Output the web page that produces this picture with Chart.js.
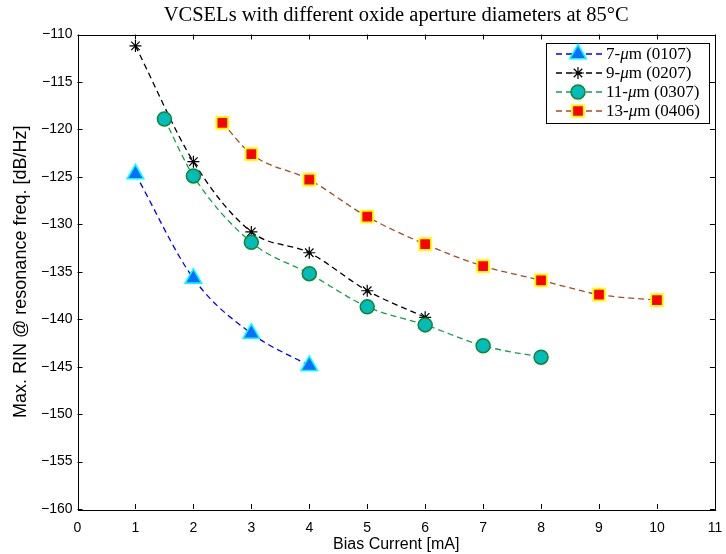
<!DOCTYPE html>
<html><head><meta charset="utf-8">
<script src="https://cdn.jsdelivr.net/npm/chart.js@4/dist/chart.umd.min.js"></script>
<style>html,body{margin:0;padding:0;background:#fff}#wrap{width:726px;height:554px}</style>
</head><body><div id="wrap"><canvas id="c" width="726" height="554"></canvas></div>
<script>
const xTickValues = [0,1,2,3,4,5,6,7,8,9,10,11];
const yTickValues = [-160,-155,-150,-145,-140,-135,-130,-125,-120,-115,-110];
const seriesLabels = ['7-μm (0107)','9-μm (0207)','11-μm (0307)','13-μm (0406)'];
const x7  = [1,2,3,4];
const y7  = [-124.7,-135.7,-141.5,-144.9];
const x9  = [1,2,3,4,5,6];
const y9  = [-111.2,-123.4,-130.8,-133.0,-137.0,-139.8];
const x11 = [1.5,2,3,4,5,6,7,8];
const y11 = [-118.9,-124.9,-131.9,-135.2,-138.7,-140.6,-142.8,-144.0];
const x13 = [2.5,3,4,5,6,7,8,9,10];
const y13 = [-119.3,-122.6,-125.3,-129.2,-132.1,-134.4,-135.9,-137.4,-138.0];
const titleText = 'VCSELs with different oxide aperture diameters at 85°C';
const xTitle = 'Bias Current [mA]';
const yTitle = 'Max. RIN @ resonance freq. [dB/Hz]';

const pts = (xs, ys) => xs.map((x, i) => ({x, y: ys[i]}));
const SANS = '"Liberation Sans", Arial, sans-serif';
const SERIF = '"Liberation Serif", "Times New Roman", serif';

function mkSet(label, data, line, fill, edge, style, radius, bw, order){
  return {label, data, borderColor: line, borderWidth: 1.3, borderDash: [6,4],
    cubicInterpolationMode: 'monotone', fill: false, showLine: true,
    pointStyle: style, pointRadius: radius, pointHoverRadius: radius,
    pointBackgroundColor: fill, pointBorderColor: edge, pointBorderWidth: bw,
    order};
}

const datasets = [
  mkSet(seriesLabels[0], pts(x7, y7), '#0000ff', '#0a6eff', '#00ffff', 'triangle', 9.5, 1.6, 4),
  mkSet(seriesLabels[1], pts(x9, y9), '#000000', '#000000', '#000000', 'star', 6, 1.2, 3),
  mkSet(seriesLabels[2], pts(x11, y11), '#12a14a', '#00bcbc', '#11862a', 'circle', 7, 1.5, 2),
  mkSet(seriesLabels[3], pts(x13, y13), '#a84a22', '#ff0000', '#ffff00', 'rect', 8.3, 2, 1),
];

function drawMarker(ctx, ds, x, y){
  ctx.save();
  ctx.setLineDash([]);
  ctx.fillStyle = ds.pointBackgroundColor;
  ctx.strokeStyle = ds.pointBorderColor;
  ctx.lineWidth = ds.pointBorderWidth;
  Chart.helpers.drawPoint(ctx, {pointStyle: ds.pointStyle, rotation: 0, radius: ds.pointRadius, borderWidth: ds.pointBorderWidth}, x, y);
  ctx.restore();
}

const framePlugin = {
  id: 'frame',
  afterDraw(chart){
    const {ctx, chartArea: a, scales} = chart;
    ctx.save();
    ctx.fillStyle = '#000'; ctx.textAlign = 'center'; ctx.textBaseline = 'alphabetic';
    ctx.font = '20.5px ' + SERIF;
    ctx.fillText(titleText, (a.left + a.right) / 2, 21);

    ctx.strokeStyle = '#000'; ctx.lineWidth = 1; ctx.setLineDash([]);
    ctx.strokeRect(Math.round(a.left)+0.5, Math.round(a.top)+0.5, Math.round(a.right-a.left), Math.round(a.bottom-a.top));
    const tl = 5;
    ctx.beginPath();
    scales.x.ticks.forEach(t => {
      const px = Math.round(scales.x.getPixelForValue(t.value)) + 0.5;
      ctx.moveTo(px, a.bottom); ctx.lineTo(px, a.bottom - tl);
      ctx.moveTo(px, a.top); ctx.lineTo(px, a.top + tl);
    });
    scales.y.ticks.forEach(t => {
      const py = Math.round(scales.y.getPixelForValue(t.value)) + 0.5;
      ctx.moveTo(a.left, py); ctx.lineTo(a.left + tl, py);
      ctx.moveTo(a.right, py); ctx.lineTo(a.right - tl, py);
    });
    ctx.stroke();

    const bw = 163, bh = 80;
    const bx = Math.round(a.right) - 6 - bw, by = Math.round(a.top) + 8;
    ctx.fillStyle = '#fff';
    ctx.fillRect(bx, by, bw, bh);
    ctx.strokeRect(bx + 0.5, by + 0.5, bw, bh);
    chart.data.datasets.forEach((ds, i) => {
      const cy = by + 11 + i * 19;
      ctx.save();
      ctx.strokeStyle = ds.borderColor; ctx.lineWidth = 1.3; ctx.setLineDash([6,4]);
      ctx.beginPath(); ctx.moveTo(bx + 10, cy); ctx.lineTo(bx + 56, cy); ctx.stroke();
      ctx.restore();
      drawMarker(ctx, ds, bx + 32, cy);
      let tx = bx + 60;
      ctx.fillStyle = '#000'; ctx.textBaseline = 'middle'; ctx.textAlign = 'left';
      const parts = ds.label.split('μ');
      parts.forEach((p, k) => {
        ctx.font = '17px ' + SERIF;
        ctx.fillText(p, tx, cy + 1);
        tx += ctx.measureText(p).width;
        if (k < parts.length - 1){
          ctx.font = 'italic 17px ' + SERIF;
          ctx.fillText('μ', tx, cy + 1);
          tx += ctx.measureText('μ').width;
        }
      });
    });
    ctx.restore();
  }
};

new Chart(document.getElementById('c'), {
  type: 'scatter',
  data: {datasets},
  plugins: [framePlugin],
  options: {
    responsive: false, animation: false, devicePixelRatio: 1,
    layout: {padding: {left: 0, right: 10, top: 34.5, bottom: 0}},
    plugins: {
      legend: {display: false}, tooltip: {enabled: false}, title: {display: false}
    },
    scales: {
      x: {type: 'linear', min: 0, max: 11,
        afterBuildTicks: s => { s.ticks = xTickValues.map(v => ({value: v})); },
        afterFit: s => { s.height = 45; s.paddingLeft = 0; s.paddingRight = 0; },
        grid: {display: false, drawTicks: false}, border: {display: false},
        ticks: {color: '#000', font: {family: SANS, size: 14}, padding: 11, maxRotation: 0},
        title: {display: true, text: xTitle, color: '#000', font: {family: SANS, size: 16}, padding: {top: 0, bottom: 0}}
      },
      y: {type: 'linear', min: -160, max: -110,
        afterBuildTicks: s => { s.ticks = yTickValues.map(v => ({value: v})); },
        afterFit: s => { s.width = 77.5; s.paddingTop = 0; s.paddingBottom = 0; },
        grid: {display: false, drawTicks: false}, border: {display: false},
        ticks: {color: '#000', font: {family: SANS, size: 14}, padding: 5,
          callback: v => String(v).replace('-', '\u2212')},
        title: {display: true, text: yTitle, color: '#000', font: {family: SANS, size: 18}, padding: {top: 10, bottom: 0}}
      }
    }
  }
});
</script>
</body></html>
